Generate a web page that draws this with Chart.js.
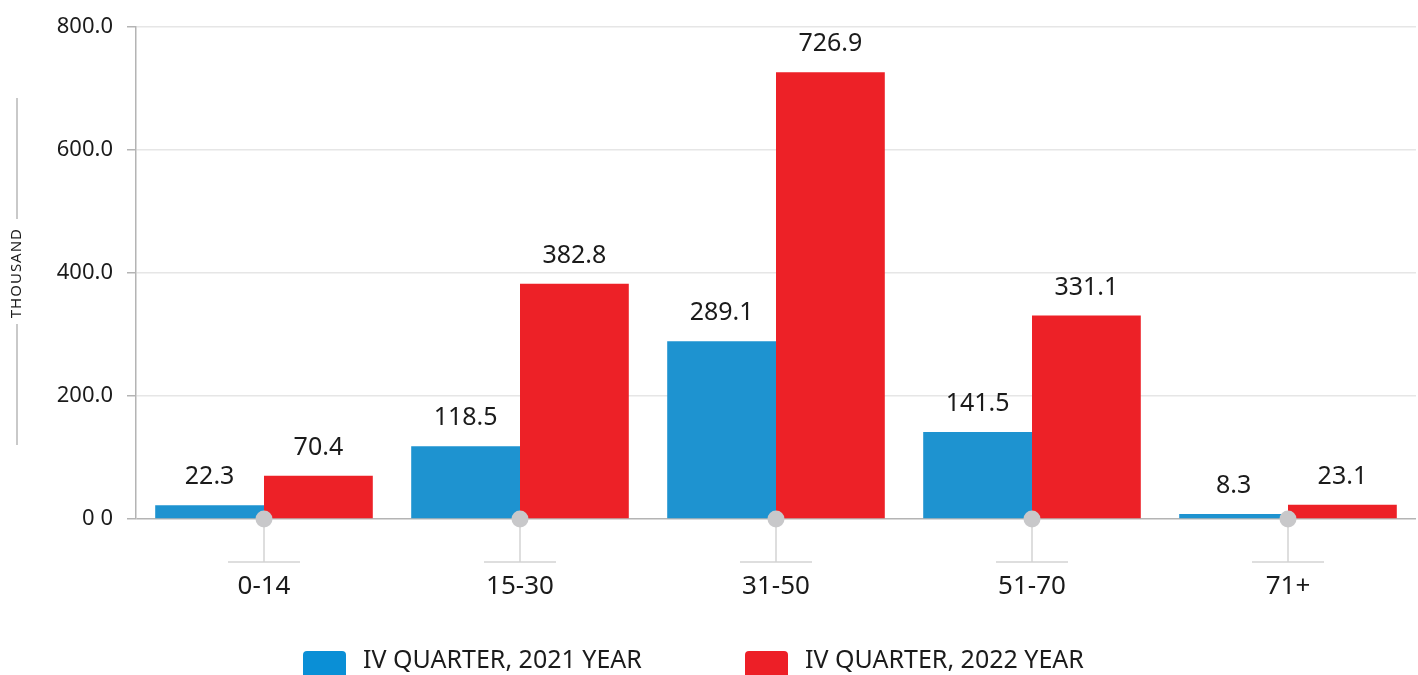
<!DOCTYPE html>
<html>
<head>
<meta charset="utf-8">
<script src="https://cdn.jsdelivr.net/npm/chart.js@4"></script>
<style>
  html, body { margin: 0; padding: 0; background: #fff; }
  #wrap { width: 1418px; height: 675px; }
</style>
</head>
<body>
<div id="wrap"><canvas id="age-chart"></canvas></div>
<script>
const ageGroups = ["0-14", "15-30", "31-50", "51-70", "71+"];
const values2021 = [22.3, 118.5, 289.1, 141.5, 8.3];
const values2022 = [70.4, 382.8, 726.9, 331.1, 23.1];
const seriesNames = ["IV QUARTER, 2021 YEAR", "IV QUARTER, 2022 YEAR"];
const yTickLabels = ["0 0", "200.0", "400.0", "600.0", "800.0"];
const axisTitle = "THOUSAND";

const FONT = "'Noto Sans', sans-serif";
const TEXT = "#1b1b1b";
const BLUE = "#1e93d0";
const RED = "#ed2127";
const LEGEND_COLORS = ["#0a8fd6", "#ed1f27"];

const extras = {
  id: "extras",
  afterDatasetsDraw(chart) {
    const { ctx, scales } = chart;
    const x = scales.x, y = scales.y;
    const y0 = y.getPixelForValue(0);
    ctx.save();

    // category markers under the baseline
    ageGroups.forEach((g, i) => {
      const cx = x.getPixelForValue(i);
      ctx.strokeStyle = "#d3d3d3";
      ctx.lineWidth = 1.5;
      ctx.beginPath();
      ctx.moveTo(cx, y0);
      ctx.lineTo(cx, y0 + 43);
      ctx.moveTo(cx - 36, y0 + 43);
      ctx.lineTo(cx + 36, y0 + 43);
      ctx.stroke();
      ctx.fillStyle = "#c8c8ca";
      ctx.beginPath();
      ctx.arc(cx, y0, 8.5, 0, Math.PI * 2);
      ctx.fill();
    });

    // value labels
    ctx.fillStyle = TEXT;
    ctx.font = "25px " + FONT;
    ctx.textAlign = "center";
    ctx.textBaseline = "middle";
    chart.data.datasets.forEach((ds, di) => {
      chart.getDatasetMeta(di).data.forEach((bar, i) => {
        ctx.fillText(ds.data[i].toFixed(1), bar.x, bar.y - 28);
      });
    });

    // rotated axis title with lines
    const midY = (chart.chartArea.top + chart.chartArea.bottom) / 2;
    ctx.save();
    ctx.translate(17, midY);
    ctx.rotate(-Math.PI / 2);
    ctx.font = "15px " + FONT;
    ctx.letterSpacing = "1px";
    ctx.fillText(axisTitle, 0, 0);
    ctx.restore();
    ctx.strokeStyle = "#b8b8b8";
    ctx.lineWidth = 1.5;
    ctx.beginPath();
    ctx.moveTo(17, midY - 175);
    ctx.lineTo(17, midY - 54);
    ctx.moveTo(17, midY + 51);
    ctx.lineTo(17, midY + 172);
    ctx.stroke();

    // legend
    const legendX = [303, 745];
    ctx.font = "25px " + FONT;
    ctx.textAlign = "left";
    seriesNames.forEach((name, i) => {
      ctx.fillStyle = LEGEND_COLORS[i];
      ctx.beginPath();
      ctx.roundRect(legendX[i], 651, 43, 34, [4, 4, 0, 0]);
      ctx.fill();
      ctx.fillStyle = TEXT;
      ctx.fillText(name, legendX[i] + 60, 661);
    });

    ctx.restore();
  },
};

new Chart(document.getElementById("age-chart"), {
  type: "bar",
  data: {
    labels: ageGroups,
    datasets: [
      { label: seriesNames[0], data: values2021, backgroundColor: BLUE },
      { label: seriesNames[1], data: values2022, backgroundColor: RED },
    ],
  },
  options: {
    responsive: true,
    maintainAspectRatio: false,
    animation: false,
    categoryPercentage: 0.85,
    barPercentage: 1,
    layout: { padding: { top: 25, right: 2, left: 0, bottom: 0 } },
    plugins: {
      legend: { display: false },
      tooltip: { enabled: false },
    },
    scales: {
      x: {
        grid: { display: false, drawTicks: false },
        border: { display: false },
        ticks: {
          color: TEXT,
          font: { family: FONT, size: 26 },
          padding: 52,
        },
        afterFit(scale) { scale.height = 156; },
      },
      y: {
        min: 0,
        max: 800,
        ticks: {
          stepSize: 200,
          color: TEXT,
          font: { family: FONT, size: 22 },
          padding: 14,
          callback: (v, i) => yTickLabels[i],
        },
        grid: {
          color: (c) => (c.tick && c.tick.value === 0 ? "#b4b4b4" : "#e6e6e6"),
          lineWidth: 1.5,
          tickColor: "#b4b4b4",
          tickLength: 9,
        },
        border: { color: "#b4b4b4", width: 1.5 },
        afterFit(scale) { scale.width = 136; },
      },
    },
  },
  plugins: [extras],
});
</script>
</body>
</html>
